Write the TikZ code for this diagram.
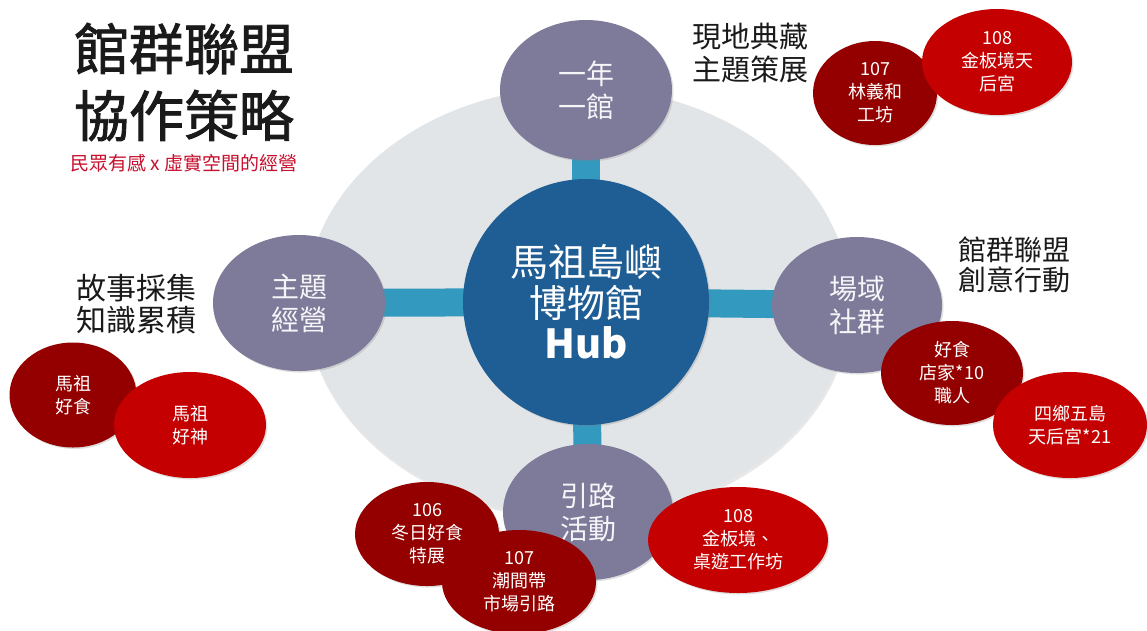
\documentclass[tikz,border=0pt]{standalone}
\usepackage{fontspec}
\setmainfont{Noto Sans CJK TC}
\newfontfamily\titlefont{Noto Sans CJK TC}[FakeBold=1.6]
\usetikzlibrary{shapes.geometric,shadows}
\definecolor{hubblue}{HTML}{1F5E94}
\definecolor{barblue}{HTML}{3399BE}
\definecolor{satgray}{HTML}{7D7A9A}
\definecolor{ringgray}{HTML}{E2E5E7}
\definecolor{darkred}{HTML}{940000}
\definecolor{brightred}{HTML}{C40000}
\definecolor{subred}{HTML}{C8102E}
\definecolor{captext}{HTML}{1A1A1A}
\pgfdeclarelayer{paperlayer}
\pgfdeclarelayer{ringlayer}
\pgfdeclarelayer{barlayer}
\pgfsetlayers{paperlayer,ringlayer,barlayer,main}
\tikzset{
  softshadow/.style={drop shadow={opacity=0.25, shadow xshift=1.5pt, shadow yshift=-1.5pt}},
  sat/.style={ellipse, fill=satgray, text=white!92!satgray, inner sep=0pt,
    font=\fontsize{28}{33}\selectfont, align=center, softshadow},
  redbox/.style={ellipse, inner sep=0pt, text=white, align=center,
    font=\fontsize{18}{23}\selectfont, softshadow},
  darkbox/.style={redbox, fill=darkred},
  brightbox/.style={redbox, fill=brightred},
  bar/.style={barblue, line width=28pt},
  caption/.style={text=captext, align=center, inner sep=0pt}
}
\begin{document}
\begin{tikzpicture}[x=1pt,y=-1pt]
\begin{pgfonlayer}{paperlayer}
\fill[white] (0,0) rectangle (1147,630);
\end{pgfonlayer}
\useasboundingbox (0,0) rectangle (1147,630);

% ring
\begin{pgfonlayer}{ringlayer}
\node[ellipse, fill=ringgray, minimum width=544pt, minimum height=430pt,
  drop shadow={opacity=0.18, shadow xshift=1pt, shadow yshift=-3pt}] (ring) at (578,302) {};
\end{pgfonlayer}

% hub
\node[circle, fill=hubblue, minimum size=246pt, inner sep=0pt, text=white, align=center,
  font=\fontsize{38}{41}\selectfont, softshadow] (hub) at (586,302)
  {馬祖島嶼\\博物館\\{\bfseries\fontsize{40}{41}\selectfont Hub}};

% satellites
\node[sat, minimum width=172pt, minimum height=140pt] (top) at (586,90) {一年\\一館};
\node[sat, minimum width=172pt, minimum height=136pt] (left) at (299,303) {主題\\經營};
\node[sat, minimum width=170pt, minimum height=136pt] (right) at (857,305) {場域\\社群};
\node[sat, minimum width=170pt, minimum height=136pt] (bottom) at (588,512) {引路\\活動};

% bars
\begin{pgfonlayer}{barlayer}
\draw[bar] (hub.center) -- (top.center);
\draw[bar] (hub.center) -- (left.center);
\draw[bar] (hub.center) -- (right.center);
\draw[bar] (hub.center) -- (bottom.center);
\end{pgfonlayer}

% red ellipses
\node[darkbox, minimum width=124pt, minimum height=104pt] (linyihe) at (875,93) {107\\林義和\\工坊};
\node[brightbox, minimum width=150pt, minimum height=106pt] (jinbanA) at (997,62) {108\\金板境天\\后宮};
\node[darkbox, minimum width=127pt, minimum height=105pt] (mzfood) at (73,395) {馬祖\\好食};
\node[brightbox, minimum width=152pt, minimum height=106pt] (mzgod) at (190,425) {馬祖\\好神};
\node[darkbox, minimum width=142pt, minimum height=104pt] (shop) at (952,373) {好食\\店家*10\\職人};
\node[brightbox, minimum width=154pt, minimum height=106pt] (temple) at (1070,425) {四鄉五島\\天后宮*21};
\node[darkbox, minimum width=144pt, minimum height=104pt] (winter) at (427,534) {106\\冬日好食\\特展};
\node[darkbox, minimum width=154pt, minimum height=104pt] (tidal) at (519,582) {107\\潮間帶\\市場引路};
\node[brightbox, minimum width=180pt, minimum height=106pt] (jinbanB) at (738,540) {108\\金板境、\\桌遊工作坊};

% captions
\node[caption, font=\titlefont\fontsize{55}{67}\selectfont] (title) at (184,82) {館群聯盟\\協作策略};
\node[caption, text=subred, font=\fontsize{19}{20}\selectfont] (subtitle) at (184,163) {民眾有感 x 虛實空間的經營};
\node[caption, font=\fontsize{29}{33}\selectfont] (capA) at (750,53) {現地典藏\\主題策展};
\node[caption, font=\fontsize{30}{32}\selectfont] (capB) at (136,304) {故事採集\\知識累積};
\node[caption, font=\fontsize{28}{30}\selectfont] (capC) at (1014,265) {館群聯盟\\創意行動};
\end{tikzpicture}
\end{document}
